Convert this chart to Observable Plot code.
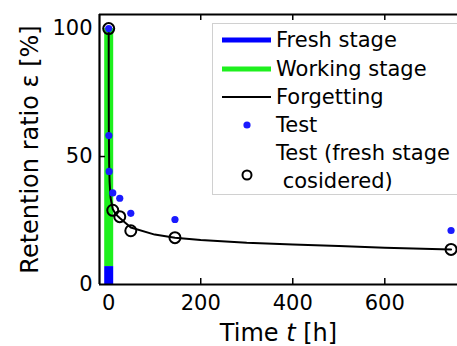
<!DOCTYPE html>
<html>
<head>
<meta charset="utf-8">
<script src="https://cdn.jsdelivr.net/npm/d3@7"></script>
<script src="https://cdn.jsdelivr.net/npm/@observablehq/plot@0.6"></script>
<style>
  html, body { margin: 0; padding: 0; background: #fff; overflow: hidden; }
  #wrap { position: relative; width: 457px; height: 346px; }
  #legend {
    position: absolute; left: 212px; top: 23px; width: 260px; height: 172px;
    border: 1px solid #d0d0d0; background: #fff; box-sizing: border-box;
    font-family: "DejaVu Sans", sans-serif; font-size: 21px; color: #000;
  }
  .row { position: absolute; left: 0; height: 28px; line-height: 28px; white-space: pre; }
  .row svg { position: absolute; left: 8px; top: 0; }
  .row span { position: absolute; left: 63px; top: 0; }
</style>
</head>
<body>
<div id="wrap">
  <div id="chart"></div>
  <div id="legend"></div>
</div>
<script>
// ---- data ----
const xDomain = [-20, 758];
const yDomain = [0, 105.5];
const xTicks = [0, 200, 400, 600];
const yTicks = [0, 50, 100];

// Test (Ebbinghaus) retention
const testT = [0, 0.33, 1, 8.8, 24, 48, 144, 744];
const testR = [100, 58.2, 44.2, 35.8, 33.7, 27.8, 25.4, 21.1];

// Test with fresh stage considered
const freshT = [0, 8.8, 24, 48, 144, 744];
const freshR = [100, 29.0, 26.5, 21.0, 18.3, 13.7];

// Forgetting curve
const curveT = [0, 0.1, 0.33, 1, 2, 4, 8.8, 15, 24, 48, 100, 144, 200, 300, 400, 500, 600, 744];
const curveR = [100, 75, 60, 47, 40, 34, 29.5, 27.5, 26, 22.3, 19.5, 18.3, 17.4, 16.3, 15.6, 15.0, 14.4, 13.7];

// stage bars at t = 0
const freshStage = {t: 0, from: 0, to: 7};
const workingStage = {t: 0, from: 7, to: 100};

const tests = testT.map((t, i) => ({t, r: testR[i]}));
const fresh = freshT.map((t, i) => ({t, r: freshR[i]}));
const curve = curveT.map((t, i) => ({t, r: curveR[i]}));

const font = "DejaVu Sans, sans-serif";

const chart = Plot.plot({
  width: 457,
  height: 346,
  marginLeft: 99,
  marginRight: 0,
  marginTop: 14,
  marginBottom: 62,
  style: {fontFamily: font, background: "white", overflow: "visible"},
  x: {domain: xDomain, axis: null},
  y: {domain: yDomain, axis: null},
  marks: [
    // stage bars
    Plot.ruleX([workingStage], {x: "t", y1: "from", y2: "to", stroke: "#1ef01e", strokeWidth: 9}),
    Plot.ruleX([freshStage], {x: "t", y1: "from", y2: "to", stroke: "#0000ff", strokeWidth: 9}),
    // forgetting curve
    Plot.line(curve, {x: "t", y: "r", stroke: "black", strokeWidth: 2}),
    // test dots
    Plot.dot(tests, {x: "t", y: "r", r: 3.6, fill: "#1a1aff", stroke: "none"}),
    // fresh stage considered circles
    Plot.dot(fresh, {x: "t", y: "r", r: 5.5, fill: "none", stroke: "black", strokeWidth: 2}),
    // inner ticks
    Plot.ruleX(xTicks.slice(1), {x: d => d, insetTop: 264, stroke: "black", strokeWidth: 1.5}),
    Plot.ruleX(xTicks.slice(1), {x: d => d, insetBottom: 264, stroke: "black", strokeWidth: 1.5}),
    Plot.ruleY(yTicks.slice(1, 2), {y: d => d, insetRight: 352, stroke: "black", strokeWidth: 1.5}),
    // frame (left, bottom, top)
    Plot.ruleX([xDomain[0]], {stroke: "black", strokeWidth: 2.2}),
    Plot.ruleY([yDomain[0]], {stroke: "black", strokeWidth: 2.2}),
    Plot.ruleY([yDomain[1]], {stroke: "black", strokeWidth: 2.2}),
    // tick labels
    Plot.text(xTicks, {x: d => d, y: yDomain[0], text: d => String(d), dy: 19, fontSize: 21, fill: "black"}),
    Plot.text(yTicks, {x: xDomain[0], y: d => d, text: d => String(d), dx: -7, textAnchor: "end", fontSize: 21, fill: "black"}),
    // axis labels
    Plot.text([0], {frameAnchor: "bottom", text: () => "Time ", dy: 49, lineAnchor: "middle", fontSize: 24, fill: "black"}),
    Plot.text([0], {frameAnchor: "left", text: () => "Retention ratio ε [%]", rotate: -90, dx: -69, textAnchor: "middle", lineAnchor: "middle", fontSize: 24, fill: "black"})
  ]
});
document.getElementById("chart").appendChild(chart);

// x-axis title with italic t
{
  const svg = d3.select(chart);
  const texts = svg.selectAll("text").filter(function () { return this.textContent === "Time "; });
  texts.each(function () {
    const t = d3.select(this);
    t.text(null);
    t.append("tspan").text("Time ");
    t.append("tspan").attr("font-style", "italic").text("t");
    t.append("tspan").text(" [h]");
  });
}

// legend
const legendItems = [
  {label: "Fresh stage", kind: "thick", color: "#0000ff"},
  {label: "Working stage", kind: "thick", color: "#1ef01e"},
  {label: "Forgetting", kind: "line", color: "black"},
  {label: "Test", kind: "dot", color: "#1a1aff"},
  {label: "Test (fresh stage\n cosidered)", kind: "circle", color: "black"}
];
const legend = document.getElementById("legend");
const rowTops = [2, 31, 59, 87, 115];
legendItems.forEach((d, i) => {
  const row = document.createElement("div");
  row.className = "row";
  row.style.top = rowTops[i] + "px";
  const ns = "http://www.w3.org/2000/svg";
  const s = document.createElementNS(ns, "svg");
  s.setAttribute("width", 52);
  s.setAttribute("height", d.kind === "circle" ? 56 : 28);
  const cy = d.kind === "circle" ? 36 : 14;
  if (d.kind === "thick" || d.kind === "line") {
    const l = document.createElementNS(ns, "line");
    l.setAttribute("x1", 1); l.setAttribute("x2", 50);
    l.setAttribute("y1", cy); l.setAttribute("y2", cy);
    l.setAttribute("stroke", d.color);
    l.setAttribute("stroke-width", d.kind === "thick" ? 5 : 2);
    s.appendChild(l);
  } else if (d.kind === "dot") {
    const c = document.createElementNS(ns, "circle");
    c.setAttribute("cx", 26); c.setAttribute("cy", cy); c.setAttribute("r", 3.6);
    c.setAttribute("fill", d.color);
    s.appendChild(c);
  } else {
    const c = document.createElementNS(ns, "circle");
    c.setAttribute("cx", 26); c.setAttribute("cy", cy); c.setAttribute("r", 4.5);
    c.setAttribute("fill", "none"); c.setAttribute("stroke", d.color); c.setAttribute("stroke-width", 2);
    s.appendChild(c);
  }
  row.appendChild(s);
  const sp = document.createElement("span");
  sp.textContent = d.label;
  row.appendChild(sp);
  legend.appendChild(row);
});
</script>
</body>
</html>
